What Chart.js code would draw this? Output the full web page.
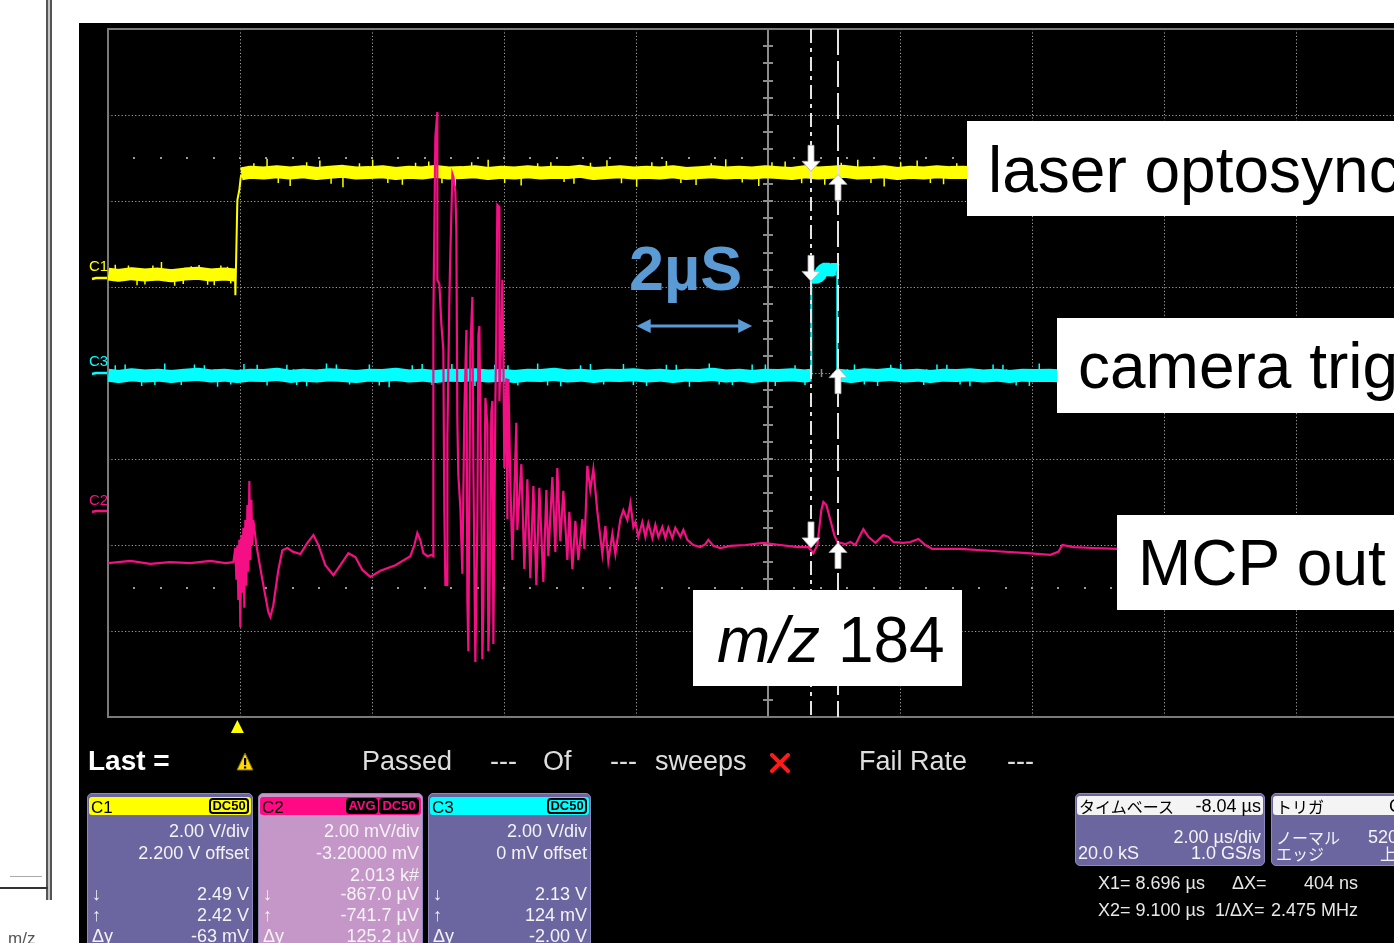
<!DOCTYPE html>
<html>
<head>
<meta charset="utf-8">
<title>Oscilloscope capture: laser optosync / camera trig / MCP out</title>
<script src="https://cdn.jsdelivr.net/npm/chart.js@4.4.1/dist/chart.umd.min.js"></script>
<style>
html,body{margin:0;padding:0;overflow:hidden;}
body{width:1394px;height:943px;position:relative;background:#fff;font-family:"Liberation Sans",Arial,sans-serif;}
#screen{position:absolute;left:79px;top:23px;width:1315px;height:920px;background:#000;}
#cv{position:absolute;left:0;top:0;}
.t{position:absolute;white-space:nowrap;line-height:1;}
.wbox{position:absolute;background:#fff;}
.panel{position:absolute;background:#6c66a0;border:1px solid #8d89bd;border-radius:5px;box-sizing:border-box;}
.hdr{position:absolute;border-radius:3px;}
.badge{position:absolute;border:2px solid #000;border-radius:4px;box-sizing:border-box;font-size:13px;line-height:12px;text-align:center;font-weight:bold;}
.deco{position:absolute;}
</style>
</head>
<body>
<div id="screen"></div>
<div class="deco" style="left:46px;top:0;width:2px;height:900px;background:#555;"></div>
<div class="deco" style="left:48px;top:0;width:2px;height:900px;background:#c4c4c4;"></div>
<div class="deco" style="left:50px;top:0;width:2px;height:900px;background:#555;"></div>
<div class="deco" style="left:0;top:887px;width:48px;height:2px;background:#333;"></div>
<div class="deco" style="left:10px;top:876px;width:32px;height:1px;background:#aaa;"></div>
<canvas id="cv" width="1460" height="943"></canvas>
<script>
// ---------------- DATA (time in µs, C1/C3 in V, C2 in mV) ----------------
const X_DIVS = [-1.96,0.04,2.04,4.04,6.04,8.04,10.04,12.04,14.04,16.04,18.04];
const Y_DIVS = [-8,-6,-4,-2,0,2,4,6,8];

// C1 laser optosync (yellow), 2.00 V/div, 2.200 V offset
const C1_LOW = [[-1.955,0.10],[-1.8,0.07],[-1.6,0.11],[-1.4,0.08],[-1.2,0.10],[-1.0,0.06],[-0.8,0.10],[-0.6,0.12],[-0.4,0.08],[-0.2,0.10],[-0.035,0.08]];
const C1_EDGE = [[-0.035,0.08],[-0.03,-0.39],[0.0,1.82],[0.03,2.06],[0.05,2.33],[0.06,2.42]];
const C1_HIGH = [[0.06,2.43],[0.2,2.47],[0.4,2.45],[0.6,2.48],[0.8,2.45],[1.0,2.48],[1.2,2.44],[1.4,2.47],[1.6,2.49],[1.8,2.45],[2.0,2.46],[2.2,2.48],[2.4,2.44],[2.6,2.47],[2.8,2.45],[3.0,2.49],[3.2,2.45],[3.4,2.46],[3.6,2.48],[3.8,2.44],[4.0,2.47],[4.2,2.45],[4.4,2.48],[4.6,2.45],[4.8,2.47],[5.0,2.46],[5.2,2.49],[5.4,2.44],[5.6,2.46],[5.8,2.48],[6.0,2.45],[6.2,2.47],[6.4,2.45],[6.6,2.48],[6.8,2.44],[7.0,2.46],[7.2,2.48],[7.4,2.45],[7.6,2.47],[7.8,2.45],[8.0,2.48],[8.2,2.46],[8.4,2.44],[8.6,2.48],[8.8,2.45],[9.0,2.47],[9.2,2.49],[9.4,2.45],[9.6,2.46],[9.8,2.48],[10.0,2.44],[10.2,2.47],[10.4,2.45],[10.6,2.48],[10.8,2.46],[11.0,2.47],[11.2,2.45],[14.0,2.46],[17.6,2.46]];
const C1_LOW_LEVEL = 0.09, C1_HIGH_LEVEL = 2.46;
const C1_LOW_SPIKES = [[-1.85,0.32],[-1.65,0.30],[-1.52,-0.16],[-1.40,-0.14],[-1.28,0.30],[-1.15,0.38],[-0.95,-0.17],[-0.82,-0.13],[-0.70,0.28],[-0.58,0.31],[-0.45,-0.15],[-0.35,-0.16],[-0.25,0.30],[-0.15,0.27],[-0.10,-0.12]];
const C1_HIGH_SPIKES = [[0.25,2.68],[0.45,2.78],[0.62,2.22],[0.8,2.15],[1.05,2.70],[1.25,2.74],[1.42,2.20],[1.6,2.12],[1.85,2.68],[2.05,2.76],[2.28,2.22],[2.5,2.18],[2.7,2.69],[2.9,2.72],[3.1,2.21],[3.3,2.14],[3.55,2.70],[3.8,2.76],[4.05,2.22],[4.3,2.16],[4.55,2.68],[4.75,2.70],[4.95,2.24],[5.1,2.20],[5.35,2.69],[5.6,2.75],[5.82,2.21],[6.05,2.13],[6.28,2.70],[6.5,2.73],[6.72,2.22],[6.95,2.17],[7.18,2.68],[7.4,2.77],[7.65,2.23],[7.9,2.15],[8.1,2.70],[8.3,2.72],[8.55,2.21],[8.9,2.18],[9.15,2.69],[9.4,2.76],[9.6,2.22],[9.8,2.14],[10.05,2.70],[10.3,2.74],[10.5,2.22],[10.7,2.19],[10.9,2.68]];

// C3 camera trig (cyan), 2.00 V/div, 0 mV offset
const C3_LEFT = [[-1.955,-0.05],[-1.8,-0.08],[-1.6,-0.04],[-1.4,-0.07],[-1.2,-0.05],[-1.0,-0.08],[-0.8,-0.05],[-0.6,-0.03],[-0.4,-0.07],[-0.2,-0.05],[0.0,-0.08],[0.2,-0.05],[0.4,-0.06],[0.6,-0.03],[0.8,-0.08],[1.0,-0.05],[1.2,-0.07],[1.4,-0.04],[1.6,-0.06],[1.8,-0.08],[2.0,-0.05],[2.2,-0.06],[2.4,-0.03],[2.6,-0.07],[2.8,-0.05],[3.0,-0.08],[3.2,-0.05],[3.4,-0.06],[3.6,-0.04],[3.8,-0.07],[4.0,-0.05],[4.2,-0.08],[4.4,-0.05],[4.6,-0.06],[4.8,-0.03],[5.0,-0.07],[5.2,-0.05],[5.4,-0.08],[5.6,-0.05],[5.8,-0.06],[6.0,-0.04],[6.2,-0.07],[6.4,-0.05],[6.6,-0.08],[6.8,-0.05],[7.0,-0.06],[7.2,-0.03],[7.4,-0.07],[7.6,-0.05],[7.8,-0.08],[8.0,-0.05],[8.2,-0.06],[8.4,-0.04],[8.6,-0.07],[8.69,-0.05]];
const C3_RISE = [[8.696,-0.06],[8.696,2.22],[8.72,2.22]];
const C3_PULSE = [[8.70,2.25],[8.76,2.22],[8.82,2.26],[8.86,2.38],[8.92,2.43],[8.98,2.38],[9.04,2.42],[9.085,2.39]];
const C3_FALL = [[9.09,2.40],[9.09,-0.06]];
const C3_RIGHT = [[9.1,-0.05],[9.3,-0.08],[9.5,-0.04],[9.7,-0.06],[9.9,-0.03],[10.1,-0.07],[10.3,-0.05],[10.5,-0.08],[10.7,-0.05],[10.9,-0.06],[11.1,-0.04],[11.3,-0.07],[11.5,-0.05],[11.7,-0.08],[11.9,-0.05],[12.1,-0.06],[12.3,-0.05],[12.5,-0.07],[15.0,-0.06],[17.6,-0.06]];
const C3_LEVEL = -0.06;
const C3_SPIKES = [[-1.85,0.18],[-1.7,0.20],[-1.45,-0.30],[-1.25,-0.28],[-1.1,0.22],[-0.85,-0.28],[-0.65,0.20],[-0.5,0.18],[-0.3,-0.32],[-0.1,-0.27],[0.1,0.21],[0.3,0.19],[0.45,-0.29],[0.75,0.19],[0.9,-0.28],[1.05,-0.31],[1.35,0.22],[1.5,0.20],[1.7,-0.27],[2.0,0.20],[2.15,-0.29],[2.3,-0.33],[2.65,0.18],[2.8,0.21],[2.95,-0.28],[3.25,0.21],[3.45,-0.27],[3.6,-0.30],[3.9,0.19],[4.1,0.18],[4.25,-0.29],[4.55,0.22],[4.7,-0.29],[4.9,-0.31],[5.2,0.18],[5.35,0.21],[5.55,-0.27],[5.85,0.21],[6.0,-0.28],[6.2,-0.30],[6.5,0.19],[6.65,0.19],[6.85,-0.32],[7.15,0.22],[7.3,-0.27],[7.5,-0.28],[7.8,0.20],[8.0,0.20],[8.15,-0.30],[8.45,0.18],[8.6,-0.28],[9.35,0.20],[9.5,-0.27],[9.7,-0.30],[9.9,0.19],[10.05,0.21],[10.4,-0.28],[10.6,0.20],[10.75,0.19],[10.95,-0.27],[11.1,-0.31],[11.45,0.20],[11.6,0.19],[11.8,-0.29],[12.0,-0.30],[12.15,0.22]];

// C2 MCP out (pink), 2.00 mV/div, -3.2 mV offset, averaged
const C2_MCP = [[-1.955,-1.22],[-1.62,-1.17],[-1.32,-1.24],[-1.02,-1.20],[-0.71,-1.22],[-0.41,-1.17],[-0.18,-1.22],[-0.06,-1.20],
[-0.030,-0.87],[-0.015,-1.61],[0.0,-0.80],[0.015,-2.08],[0.030,-0.68],[0.045,-2.71],[0.061,-0.57],[0.076,-1.91],[0.091,-0.40],[0.106,-2.26],[0.121,-0.22],[0.136,-1.75],[0.152,0.13],[0.167,-1.42],[0.182,0.69],[0.197,-1.15],[0.212,0.25],[0.227,-0.80],[0.242,-0.22],
[0.288,-0.80],[0.379,-1.61],[0.470,-2.36],[0.500,-2.47],[0.545,-2.20],[0.621,-1.38],[0.682,-0.92],[0.758,-0.87],[0.848,-0.96],[0.955,-1.01],[1.061,-0.75],[1.152,-0.57],[1.227,-0.80],[1.333,-1.27],[1.455,-1.50],[1.561,-1.27],[1.682,-0.99],[1.788,-1.08],[1.894,-1.38],[2.015,-1.54],[2.167,-1.40],[2.394,-1.27],[2.621,-1.06],[2.682,-0.80],[2.727,-0.52],[2.773,-0.69],[2.818,-0.99],[2.879,-1.06],[2.939,-1.03],
[2.970,-1.06],[2.970,4.50],[3.000,8.69],[3.030,9.27],[3.030,5.36],[3.061,5.27],[3.091,4.34],[3.121,3.73],[3.136,-0.03],[3.152,-1.73],[3.182,-1.73],[3.182,1.69],[3.212,4.92],[3.227,5.97],[3.258,7.83],[3.273,7.76],[3.303,7.41],[3.318,6.55],[3.333,2.11],[3.348,0.83],[3.379,0.06],[3.409,-1.47],[3.439,2.29],[3.470,4.20],[3.485,-2.08],[3.500,-3.27],[3.530,3.73],[3.561,4.97],[3.576,0.99],[3.606,-3.52],[3.636,-0.29],[3.652,4.08],[3.667,4.29],[3.697,0.15],[3.712,-3.45],[3.727,-2.24],[3.758,2.62],[3.788,2.01],[3.803,-3.27],[3.818,-2.43],[3.848,2.29],[3.864,2.55],[3.879,-3.10],[3.909,2.46],[3.924,4.25],[3.939,7.11],[3.970,7.06],[3.970,2.55],[4.000,4.08],[4.015,5.36],[4.030,3.57],[4.045,0.99],[4.076,3.08],[4.091,-0.20],[4.106,3.06],[4.136,0.67],[4.167,-1.15],[4.227,2.04],[4.242,-0.45],[4.303,1.08],[4.348,-1.36],[4.394,0.73],[4.439,-1.57],[4.485,0.57],[4.530,-1.73],[4.576,0.53],[4.636,-1.66],[4.682,0.48],[4.712,-1.06],[4.773,0.78],[4.818,-0.96],[4.848,0.99],[4.894,-0.71],[4.939,0.46],[5.000,-1.15],[5.030,-0.03],[5.076,-1.36],[5.121,-0.24],[5.167,-1.15],[5.227,-0.20],[5.258,-0.89],[5.303,1.04],[5.348,0.48],[5.394,0.97],[5.455,-0.03],[5.530,-1.01],[5.576,-0.36],[5.621,-1.17],[5.682,-0.54],[5.727,-1.01],[5.803,-0.20],
[5.848,0.01],[5.909,-0.22],[5.955,0.18],[6.000,-0.38],[6.030,-0.27],[6.076,-0.61],[6.136,-0.27],[6.182,-0.61],[6.227,-0.29],[6.288,-0.64],[6.333,-0.33],[6.379,-0.61],[6.439,-0.38],[6.485,-0.64],[6.530,-0.40],[6.591,-0.64],[6.636,-0.40],[6.712,-0.61],[6.758,-0.45],[6.818,-0.68],[6.909,-0.80],[7.015,-0.85],[7.091,-0.78],[7.136,-0.68],[7.212,-0.82],[7.318,-0.87],[7.470,-0.82],[7.697,-0.80],[7.970,-0.75],[8.227,-0.80],[8.485,-0.85],[8.652,-0.85],[8.727,-0.99],[8.788,-0.80],[8.848,0.01],[8.879,0.20],[8.924,0.13],[8.985,-0.22],[9.045,-0.57],[9.091,-0.73],[9.212,-0.78],[9.288,-0.73],[9.364,-0.80],[9.439,-0.57],[9.485,-0.43],[9.561,-0.61],[9.667,-0.75],[9.788,-0.57],[9.864,-0.61],[9.939,-0.73],[10.091,-0.75],[10.197,-0.73],[10.318,-0.66],[10.424,-0.80],[10.530,-0.89],[10.955,-0.89],[11.455,-0.94],[11.970,-0.99],[12.318,-1.03],[12.439,-0.96],[12.500,-0.80],[12.667,-0.85],[12.970,-0.87],[13.333,-0.89],[14.591,-0.87],[16.106,-0.89],[17.530,-0.87],[18.04,-0.88]];

// cursors (µs) and readouts at each cursor
const CURSOR_T = [8.696, 9.100];
const C1_AT_CURSOR = [2.49, 2.42];
const C2_AT_CURSOR = [-0.867, -0.7417];
const C3_AT_CURSOR = [2.13, 0.124];
const ARROW_2US = [6.05, 7.80];   // µs span of the blue "2µS" arrow
const ARROW_2US_LEVEL = 1.09;     // on C3 scale (V)

// ---------------- helpers ----------------
const pts = a => a.map(([x,y]) => ({x, y}));
function spikeData(base, tips){
  const d = [];
  tips.forEach(([t,v]) => { d.push({x:t,y:base},{x:t,y:v},{x:t,y:null}); });
  return d;
}
const YEL='#ffff00', CYA='#00ffff', PNK='#f50f84';
const band = (data, color, axis) => ({data: pts(data), borderColor: color, borderWidth: 13, yAxisID: axis, borderCapStyle:'butt', borderJoinStyle:'bevel'});
const thin = (data, color, axis, w) => ({data, borderColor: color, borderWidth: w, yAxisID: axis, spanGaps:false});

const decor = {
  id:'scopeDecor',
  beforeDatasetsDraw(chart){
    const {ctx, chartArea:a, scales} = chart;
    const x = scales.x, y3 = scales.y3;
    ctx.save();
    ctx.fillStyle = '#9a9a9a';
    [5,-5].forEach(v => {
      const py = Math.round(y3.getPixelForValue(v));
      for (let t = X_DIVS[0]; t <= X_DIVS[X_DIVS.length-1] + 1e-6; t += 0.4) {
        const px = Math.round(x.getPixelForValue(t));
        ctx.fillRect(px-1, py-1, 2, 2);
      }
    });
    const cx = Math.round(x.getPixelForValue(8.04));
    ctx.strokeStyle = '#8c8c8c'; ctx.lineWidth = 2;
    ctx.beginPath(); ctx.moveTo(cx, a.top); ctx.lineTo(cx, a.bottom); ctx.stroke();
    for (let v = -8; v <= 8.0001; v += 0.4) {
      const py = Math.round(y3.getPixelForValue(v));
      ctx.beginPath(); ctx.moveTo(cx-5, py); ctx.lineTo(cx+5, py); ctx.stroke();
    }
    const cy = Math.round(y3.getPixelForValue(0));
    ctx.lineWidth = 1.5;
    for (let t = X_DIVS[0]; t <= X_DIVS[X_DIVS.length-1] + 1e-6; t += 0.4) {
      const px = Math.round(x.getPixelForValue(t)) + 0.5;
      ctx.beginPath(); ctx.moveTo(px, cy-4); ctx.lineTo(px, cy+4); ctx.stroke();
    }
    ctx.strokeStyle = '#7a7a7a'; ctx.lineWidth = 2;
    ctx.strokeRect(a.left, a.top, a.right - a.left, a.bottom - a.top);
    [['y1',YEL],['y3',CYA],['y2',PNK]].forEach(([id,col]) => {
      const py = Math.round(scales[id].getPixelForValue(0));
      ctx.strokeStyle = col; ctx.lineWidth = 2.5;
      ctx.beginPath(); ctx.moveTo(a.left-16, py+1); ctx.lineTo(a.left-12, py); ctx.lineTo(a.left-1, py); ctx.stroke();
    });
    ctx.restore();
  },
  afterDatasetsDraw(chart){
    const {ctx, chartArea:a, scales} = chart;
    const x = scales.x;
    ctx.save();
    const dashes = [[14,5,4,5],[26,6]];
    CURSOR_T.forEach((t,i) => {
      const px = Math.round(x.getPixelForValue(t));
      ctx.strokeStyle = '#e4e4e4'; ctx.lineWidth = 2; ctx.setLineDash(dashes[i]);
      ctx.beginPath(); ctx.moveTo(px, a.top); ctx.lineTo(px, a.bottom); ctx.stroke();
    });
    ctx.setLineDash([]);
    function arrow(px, tip, dir){
      const hl = 10, hw = 9, sl = 16, sw = 3;
      ctx.beginPath();
      ctx.moveTo(px, tip);
      ctx.lineTo(px-hw, tip-dir*hl); ctx.lineTo(px-sw, tip-dir*hl);
      ctx.lineTo(px-sw, tip-dir*(hl+sl)); ctx.lineTo(px+sw, tip-dir*(hl+sl));
      ctx.lineTo(px+sw, tip-dir*hl); ctx.lineTo(px+hw, tip-dir*hl);
      ctx.closePath(); ctx.fill(); ctx.stroke();
    }
    ctx.fillStyle = '#ffffff'; ctx.strokeStyle = '#b0b0b0'; ctx.lineWidth = 0.8;
    [['y1',C1_AT_CURSOR],['y3',C3_AT_CURSOR],['y2',C2_AT_CURSOR]].forEach(([id, vals]) => {
      const s = scales[id];
      arrow(Math.round(x.getPixelForValue(CURSOR_T[0])), s.getPixelForValue(vals[0]), 1);
      arrow(Math.round(x.getPixelForValue(CURSOR_T[1])), s.getPixelForValue(vals[1]), -1);
    });
    const tx = x.getPixelForValue(0);
    ctx.fillStyle = YEL;
    ctx.beginPath(); ctx.moveTo(tx, a.bottom+3); ctx.lineTo(tx-6.5, a.bottom+16); ctx.lineTo(tx+6.5, a.bottom+16); ctx.closePath(); ctx.fill();
    const x0 = x.getPixelForValue(ARROW_2US[0]), x1 = x.getPixelForValue(ARROW_2US[1]);
    const ay = Math.round(scales.y3.getPixelForValue(ARROW_2US_LEVEL));
    ctx.strokeStyle = '#5b9bd5'; ctx.fillStyle = '#5b9bd5'; ctx.lineWidth = 3;
    ctx.beginPath(); ctx.moveTo(x0+8, ay); ctx.lineTo(x1-8, ay); ctx.stroke();
    ctx.beginPath(); ctx.moveTo(x0, ay); ctx.lineTo(x0+14, ay-7); ctx.lineTo(x0+14, ay+7); ctx.closePath(); ctx.fill();
    ctx.beginPath(); ctx.moveTo(x1, ay); ctx.lineTo(x1-14, ay-7); ctx.lineTo(x1-14, ay+7); ctx.closePath(); ctx.fill();
    ctx.restore();
  }
};

new Chart(document.getElementById('cv'), {
  type:'line',
  data:{ datasets:[
    {data: pts(C2_MCP), borderColor: PNK, borderWidth: 2.2, yAxisID:'y2'},
    thin(pts(C1_EDGE), YEL, 'y1', 2),
    thin(spikeData(C1_LOW_LEVEL, C1_LOW_SPIKES).concat(spikeData(C1_HIGH_LEVEL, C1_HIGH_SPIKES)), YEL, 'y1', 1.5),
    band(C1_LOW, YEL, 'y1'),
    band(C1_HIGH, YEL, 'y1'),
    thin(pts(C3_RISE).concat([{x:9.0,y:null}], pts(C3_FALL)), CYA, 'y3', 2),
    thin(spikeData(C3_LEVEL, C3_SPIKES), CYA, 'y3', 1.5),
    band(C3_LEFT, CYA, 'y3'),
    band(C3_PULSE, CYA, 'y3'),
    band(C3_RIGHT, CYA, 'y3')
  ]},
  options:{
    responsive:false, animation:false, devicePixelRatio:1, events:[],
    layout:{padding:{left:108, top:29, right:32, bottom:226}},
    elements:{point:{radius:0}, line:{tension:0, fill:false}},
    plugins:{legend:{display:false}, tooltip:{enabled:false}},
    scales:{
      x:{type:'linear', min:-1.96, max:18.04,
         afterBuildTicks: s => { s.ticks = X_DIVS.map(v => ({value:v})); },
         ticks:{display:false}, grid:{color:'#a0a0a0', lineWidth:1, drawTicks:false},
         border:{display:false, dash:[1.2,2.2]}},
      y3:{type:'linear', position:'left', min:-8, max:8,
         afterBuildTicks: s => { s.ticks = Y_DIVS.map(v => ({value:v})); },
         ticks:{display:false}, grid:{color:'#a0a0a0', lineWidth:1, drawTicks:false},
         border:{display:false, dash:[1.2,2.2]}},
      y1:{type:'linear', display:false, min:-10.2, max:5.8},
      y2:{type:'linear', display:false, min:-4.8, max:11.2}
    }
  },
  plugins:[decor]
});

// ---------------- text overlays ----------------
const W = 1394;
function T(x, base, s, size, o){
  o = o || {};
  const e = document.createElement('div');
  e.className = 't';
  if (o.html) e.innerHTML = s; else e.textContent = s;
  e.style.fontSize = size + 'px';
  const asc = o.cjk ? 0.90 : 0.8465;
  e.style.top = (base - asc*size) + 'px';
  if (o.right) e.style.right = (W - x) + 'px'; else e.style.left = x + 'px';
  e.style.color = o.color || '#f0f0f0';
  if (o.bold) e.style.fontWeight = 'bold';
  if (o.cjk) e.style.fontFamily = '"Noto Sans CJK JP", sans-serif';
  document.body.appendChild(e);
  return e;
}
function D(cls, x, y, w, h, bg, extra){
  const e = document.createElement('div');
  e.className = cls;
  e.style.left = x+'px'; e.style.top = y+'px'; e.style.width = w+'px'; e.style.height = h+'px';
  if (bg) e.style.background = bg;
  if (extra) Object.assign(e.style, extra);
  document.body.appendChild(e);
  return e;
}

T(89, 271, 'C1', 15, {color:YEL});
T(89, 366, 'C3', 15, {color:CYA});
T(89, 505, 'C2', 15, {color:PNK});

D('wbox', 967, 121, 500, 95);
T(988, 192, 'laser optosync', 64, {color:'#000'});
D('wbox', 1057, 318, 400, 95);
T(1078, 388, 'camera trig', 64, {color:'#000'});
D('wbox', 1117, 515, 340, 95);
T(1138, 585, 'MCP out', 64, {color:'#000'});
D('wbox', 693, 590, 269, 96);
T(717, 662, '<i>m/z</i> 184', 64, {color:'#000', html:true});
T(629, 290, '2µS', 63, {color:'#5b9bd5', bold:true});

T(88, 771, 'Last =', 28, {bold:true, color:'#ffffff'});
(function(){
  const s = D('deco', 236, 752, 18, 19);
  s.innerHTML = '<svg width="18" height="19"><polygon points="9,1 17,18 1,18" fill="#ffd800" stroke="#7a6a00" stroke-width="1"/><rect x="8" y="6" width="2.2" height="7" fill="#000"/><rect x="8" y="14.5" width="2.2" height="2" fill="#000"/></svg>';
  const x = D('deco', 769, 753, 22, 20);
  x.innerHTML = '<svg width="22" height="20"><path d="M3 2 L19 18 M19 2 L3 18" stroke="#ff1a1a" stroke-width="4" stroke-linecap="round"/></svg>';
})();
T(362, 771, 'Passed', 27, {color:'#dedede'});
T(490, 771, '---', 27, {color:'#dedede'});
T(543, 771, 'Of', 27, {color:'#dedede'});
T(610, 771, '---', 27, {color:'#dedede'});
T(655, 771, 'sweeps', 27, {color:'#dedede'});
T(859, 771, 'Fail Rate', 27, {color:'#dedede'});
T(1007, 771, '---', 27, {color:'#dedede'});

function chanBox(x, w, fill, hdrColor, name, badges, badgeFill, badgeText, rows, leftX){
  D('panel', x, 793, w, 170, fill);
  D('hdr', x+2, 797, w-4, 18, hdrColor);
  T(x+4, 813, name, 17, {color:'#000'});
  let bx = x + w - 4;
  badges.slice().reverse().forEach(b => {
    const bw = b.length === 3 ? 32 : 40;
    bx -= bw;
    const e = D('badge', bx, 798, bw, 16, badgeFill);
    e.textContent = b; e.style.color = badgeText;
    bx -= 1;
  });
  const right = x + w - 4;
  rows.forEach(([base, txt]) => T(right, base, txt, 18, {right:true, color:'#f4f4f4'}));
  [['↓',900],['↑',921],['Δy',942]].forEach(([s,b]) => T(leftX, b, s, 18, {color:'#f4f4f4'}));
}
chanBox(87, 166, '#6c66a0', '#ffff00', 'C1', ['DC50'], '#ffff00', '#000',
  [[837,'2.00 V/div'],[859,'2.200 V offset'],[900,'2.49 V'],[921,'2.42 V'],[942,'-63 mV']], 92);
chanBox(258, 165, '#c497c8', '#ff0a84', 'C2', ['AVG','DC50'], '#000', '#ff0a84',
  [[837,'2.00 mV/div'],[859,'-3.20000 mV'],[881,'2.013 k#'],[900,'-867.0 µV'],[921,'-741.7 µV'],[942,'125.2 µV']], 263);
chanBox(428, 163, '#6c66a0', '#00ffff', 'C3', ['DC50'], '#00ffff', '#000',
  [[837,'2.00 V/div'],[859,'0 mV offset'],[900,'2.13 V'],[921,'124 mV'],[942,'-2.00 V']], 433);

D('panel', 1075, 793, 190, 73, '#6c66a0');
D('hdr', 1077, 796, 186, 19, '#f4f4f4');
T(1079, 812, 'タイムベース', 16, {color:'#000', cjk:true});
T(1261, 812, '-8.04 µs', 18, {right:true, color:'#000'});
T(1261, 843, '2.00 µs/div', 18, {right:true, color:'#f4f4f4'});
T(1078, 859, '20.0 kS', 18, {color:'#f4f4f4'});
T(1261, 859, '1.0 GS/s', 18, {right:true, color:'#f4f4f4'});
D('panel', 1271, 793, 160, 73, '#6c66a0');
D('hdr', 1273, 796, 156, 19, '#f4f4f4');
T(1276, 812, 'トリガ', 16, {color:'#000', cjk:true});
T(1389, 812, 'C1', 18, {color:'#000'});
T(1276, 843, 'ノーマル', 16, {color:'#f4f4f4', cjk:true});
T(1368, 843, '520 mV', 18, {color:'#f4f4f4'});
T(1276, 859, 'エッジ', 16, {color:'#f4f4f4', cjk:true});
T(1380, 859, '上昇', 16, {color:'#f4f4f4', cjk:true});
T(1098, 889, 'X1= 8.696 µs', 18, {color:'#e8e8e8'});
T(1232, 889, 'ΔX=', 18, {color:'#e8e8e8'});
T(1358, 889, '404 ns', 18, {right:true, color:'#e8e8e8'});
T(1098, 916, 'X2= 9.100 µs', 18, {color:'#e8e8e8'});
T(1215, 916, '1/ΔX=', 18, {color:'#e8e8e8'});
T(1358, 916, '2.475 MHz', 18, {right:true, color:'#e8e8e8'});
T(8, 944, 'm/z', 17, {color:'#555'});
</script>
</body>
</html>
